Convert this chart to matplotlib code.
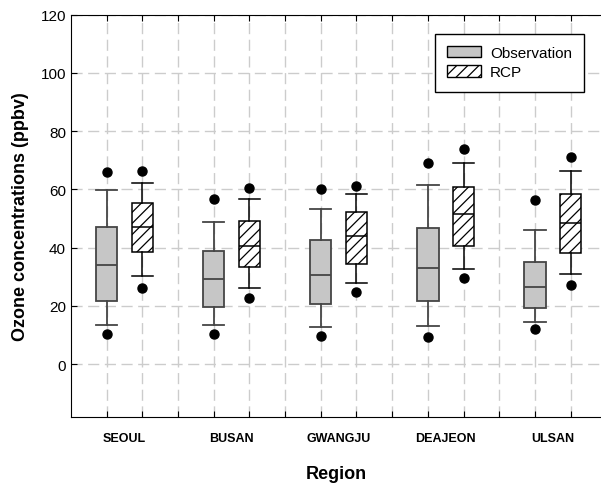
import matplotlib
matplotlib.use('Agg')
import matplotlib.pyplot as plt
from matplotlib.patches import Patch

plt.rcParams['font.family'] = ['Liberation Sans', 'DejaVu Sans']
plt.rcParams['hatch.linewidth'] = 0.9

regions = ['SEOUL', 'BUSAN', 'GWANGJU', 'DEAJEON', 'ULSAN']

# observation: whisker low, q1, median, q3, whisker high, outlier low, outlier high
obs_whislo = [13.3, 13.6, 12.9, 13.0, 14.4]
obs_q1 = [21.7, 19.7, 20.7, 21.7, 19.3]
obs_med = [34.1, 29.1, 30.6, 32.9, 26.5]
obs_q3 = [47.1, 38.9, 42.5, 46.8, 35.1]
obs_whishi = [59.9, 48.9, 53.3, 61.5, 46.2]
obs_out_lo = [10.3, 10.3, 9.6, 9.3, 12.1]
obs_out_hi = [65.8, 56.8, 60.0, 69.1, 56.2]

# RCP
rcp_whislo = [30.4, 26.3, 27.7, 32.6, 31.0]
rcp_q1 = [38.6, 33.2, 34.3, 40.7, 38.3]
rcp_med = [47.1, 40.7, 44.0, 51.6, 48.5]
rcp_q3 = [55.3, 49.2, 52.2, 60.7, 58.5]
rcp_whishi = [62.2, 56.6, 58.4, 68.9, 66.2]
rcp_out_lo = [26.1, 22.8, 24.6, 29.4, 27.2]
rcp_out_hi = [66.4, 60.5, 61.0, 73.9, 71.1]


def make_stats(lo, q1, med, q3, hi, olo, ohi):
    return [dict(whislo=lo[i], q1=q1[i], med=med[i], q3=q3[i], whishi=hi[i],
                 fliers=[olo[i], ohi[i]]) for i in range(len(lo))]


obs_stats = make_stats(obs_whislo, obs_q1, obs_med, obs_q3, obs_whishi, obs_out_lo, obs_out_hi)
rcp_stats = make_stats(rcp_whislo, rcp_q1, rcp_med, rcp_q3, rcp_whishi, rcp_out_lo, rcp_out_hi)

obs_pos = [1 + 3 * i for i in range(len(regions))]
rcp_pos = [2 + 3 * i for i in range(len(regions))]

fig = plt.figure(figsize=(6.01, 4.85), dpi=100, facecolor='white')
ax = fig.add_axes([0.118, 0.139, 0.882, 0.829])

grid_kw = dict(color='#cccccc', linestyle=(0, (8, 4)), linewidth=1.0, zorder=0)
for x in range(1, 15):
    ax.axvline(x, **grid_kw)
for y in range(0, 121, 20):
    ax.axhline(y, **grid_kw)

w = 0.6
obs_col = '#454545'
ax.bxp(obs_stats, positions=obs_pos, widths=w, capwidths=w, patch_artist=True,
       showfliers=True,
       boxprops=dict(facecolor='#c6c6c6', edgecolor=obs_col, linewidth=1.3),
       medianprops=dict(color=obs_col, linewidth=1.3),
       whiskerprops=dict(color=obs_col, linewidth=1.3),
       capprops=dict(color=obs_col, linewidth=1.3),
       flierprops=dict(marker='o', markerfacecolor='black', markeredgecolor='black',
                       markersize=6.5, linestyle='none'))
ax.bxp(rcp_stats, positions=rcp_pos, widths=w, capwidths=w, patch_artist=True,
       showfliers=True,
       boxprops=dict(facecolor='white', edgecolor='black', hatch='///', linewidth=1.1),
       medianprops=dict(color='black', linewidth=1.1),
       whiskerprops=dict(color='black', linewidth=1.1),
       capprops=dict(color='black', linewidth=1.1),
       flierprops=dict(marker='o', markerfacecolor='black', markeredgecolor='black',
                       markersize=6.5, linestyle='none'))

ax.set_xlim(0, 14.85)
ax.set_ylim(-18, 120)
ax.spines['right'].set_visible(False)

ax.set_xticks(range(1, 15))
ax.set_xticklabels([])
ax.set_xticks([1.5 + 3 * i for i in range(len(regions))], minor=True)
ax.set_xticklabels(regions, minor=True, fontsize=9, fontweight='bold')
ax.tick_params(axis='x', which='minor', length=0, pad=11)
ax.tick_params(axis='x', which='major', direction='in', length=4, top=True)
ax.set_yticks(range(0, 121, 20))
ax.tick_params(axis='y', direction='in', length=4, labelsize=11)

ax.set_ylabel('Ozone concentrations (ppbv)', fontsize=13, fontweight='bold', labelpad=8)
ax.set_xlabel('Region', fontsize=13, fontweight='bold', labelpad=15)

handles = [Patch(facecolor='#c6c6c6', edgecolor='black', label='Observation'),
           Patch(facecolor='white', edgecolor='black', hatch='///', label='RCP')]
leg = ax.legend(handles=handles, loc='upper right', bbox_to_anchor=(0.968, 0.952),
                borderaxespad=0, fontsize=11, fancybox=False, edgecolor='black',
                framealpha=1, handlelength=2.2, handleheight=0.75, handletextpad=0.6,
                borderpad=0.8, labelspacing=0.35)
leg.get_frame().set_linewidth(1.0)

fig.savefig('out.png', dpi=100)
